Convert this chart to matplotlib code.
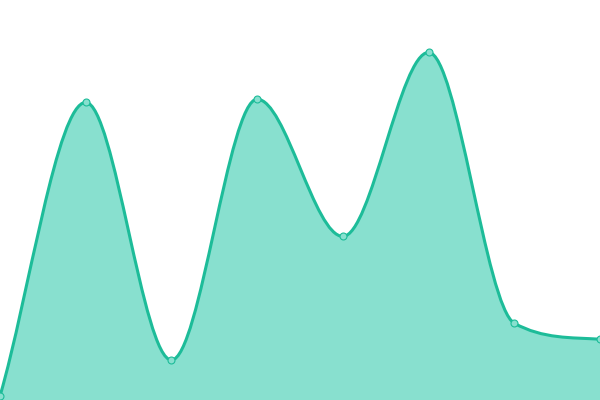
import matplotlib
matplotlib.use('Agg')
import matplotlib.pyplot as plt
from matplotlib.path import Path
from matplotlib.patches import PathPatch
import math

# values (0..100 scale, bottom edge = 0)
xs = [0, 1, 2, 3, 4, 5, 6, 7]
values = [1.0, 74.4, 10.0, 75.2, 40.9, 86.9, 19.2, 15.2]

lineColor = '#1dbc99'
areaColor = '#88e0cf'


def monotoneCurve(x, y):
        # monotone cubic (Fritsch-Carlson) turned into bezier segments
        n = len(x)
        delta = [(y[i + 1] - y[i]) / (x[i + 1] - x[i]) for i in range(n - 1)]
        m = [0.0] * n
        m[0] = delta[0]
        m[-1] = delta[-1]
        for i in range(1, n - 1):
                if delta[i - 1] == 0 or delta[i] == 0 or (delta[i - 1] > 0) != (delta[i] > 0):
                        m[i] = 0.0
                else:
                        m[i] = (delta[i - 1] + delta[i]) / 2.0
        for i in range(n - 1):
                if abs(delta[i]) < 1e-9:
                        m[i] = m[i + 1] = 0.0
                        continue
                a = m[i] / delta[i]
                b = m[i + 1] / delta[i]
                sq = a * a + b * b
                if sq <= 9:
                        continue
                tau = 3 / math.sqrt(sq)
                m[i] = a * tau * delta[i]
                m[i + 1] = b * tau * delta[i]

        verts = [(x[0], y[0])]
        codes = [Path.MOVETO]
        for i in range(n - 1):
                dx = (x[i + 1] - x[i]) / 3.0
                verts += [(x[i] + dx, y[i] + m[i] * dx),
                          (x[i + 1] - dx, y[i + 1] - m[i + 1] * dx),
                          (x[i + 1], y[i + 1])]
                codes += [Path.CURVE4] * 3
        return verts, codes


fig = plt.figure(figsize=(6, 4), dpi=100)
ax = fig.add_axes([0, 0, 1, 1])
ax.set_xlim(0, 7)
ax.set_ylim(0, 100)
ax.axis('off')

verts, codes = monotoneCurve(xs, values)

fillVerts = verts + [(xs[-1], 0), (xs[0], 0), verts[0]]
fillCodes = codes + [Path.LINETO, Path.LINETO, Path.CLOSEPOLY]
ax.add_patch(PathPatch(Path(fillVerts, fillCodes), facecolor=areaColor, edgecolor='none', zorder=1))
ax.add_patch(PathPatch(Path(verts, codes), facecolor='none', edgecolor=lineColor, linewidth=2.2, zorder=2))

ax.plot(xs, values, linestyle='none', marker='o', markersize=5,
        markerfacecolor=areaColor, markeredgecolor=lineColor, markeredgewidth=0.8, zorder=3)

plt.savefig('out.png', dpi=100)
